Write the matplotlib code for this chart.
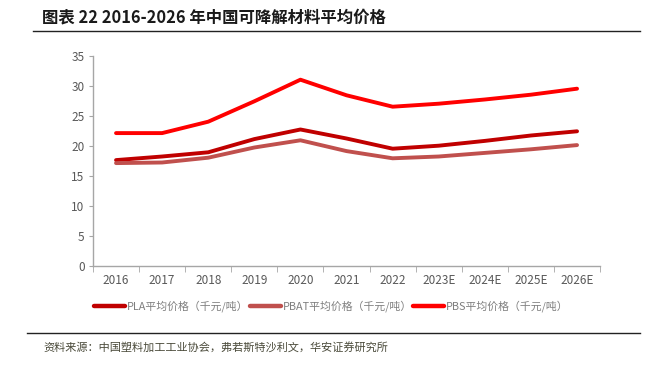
import numpy as np
import matplotlib.pyplot as plt
from matplotlib.lines import Line2D
from matplotlib.ticker import FixedLocator

plt.rcParams['font.family'] = ['Noto Sans CJK SC', 'DejaVu Sans']

years = ['2016', '2017', '2018', '2019', '2020', '2021', '2022',
         '2023E', '2024E', '2025E', '2026E']
pla = [17.6, 18.2, 18.9, 21.1, 22.7, 21.2, 19.5, 20.0, 20.8, 21.7, 22.4]
pbat = [17.1, 17.2, 18.0, 19.7, 20.9, 19.1, 17.9, 18.2, 18.8, 19.4, 20.1]
pbs = [22.1, 22.1, 24.0, 27.4, 31.0, 28.4, 26.5, 27.0, 27.7, 28.5, 29.5]

names = ['PLA平均价格（千元/吨）', 'PBAT平均价格（千元/吨）', 'PBS平均价格（千元/吨）']
colors = ['#C00000', '#C0504D', '#FF0000']

fig = plt.figure(figsize=(6.58, 3.71), dpi=100)
ax = fig.add_axes([0.1413, 0.2838, 0.7707, 0.5661])

x = np.arange(len(years))
for vals, c, nm in zip([pla, pbat, pbs], colors, names):
    ax.plot(x, vals, color=c, lw=2.8, label=nm, solid_capstyle='round')

grey = '#A6A6A6'
ax.set_xlim(-0.5, len(years) - 0.5)
ax.set_ylim(0, 35)
ax.set_yticks(range(0, 36, 5))
ax.set_xticks(x)
ax.set_xticklabels(years)
ax.xaxis.set_minor_locator(FixedLocator(np.arange(-0.5, len(years), 1)))
ax.tick_params(axis='x', which='major', length=0, pad=6, labelsize=8.5, labelcolor='#595959')
ax.tick_params(axis='x', which='minor', length=4, color=grey, direction='out')
ax.tick_params(axis='y', length=3, color=grey, labelsize=8.5, labelcolor='#595959', pad=3)
for s in ['top', 'right']:
    ax.spines[s].set_visible(False)
for s in ['left', 'bottom']:
    ax.spines[s].set_color(grey)
    ax.spines[s].set_linewidth(1.0)

handles = [Line2D([0], [0], color=c, lw=3.2, solid_capstyle='round') for c in colors]
fig.legend(handles, names, loc='center left', bbox_to_anchor=(0.128, 0.175), ncol=3,
           frameon=False, fontsize=7.8, handlelength=2.9, handletextpad=0.15,
           columnspacing=0.1, labelcolor='#7F7F7F')

fig.text(0.064, 0.953, '图表 22 2016-2026 年中国可降解材料平均价格', fontsize=11.8,
         fontweight='bold', ha='left', va='center', color='#1a1a1a')
fig.add_artist(Line2D([0.05, 0.973], [0.916, 0.916], color='#222222', lw=1.0))
fig.add_artist(Line2D([0.041, 0.973], [0.102, 0.102], color='#222222', lw=1.0))
fig.text(0.066, 0.062, '资料来源：中国塑料加工工业协会，弗若斯特沙利文，华安证券研究所',
         fontsize=8, ha='left', va='center', color='#4a4a3a')

fig.savefig('out.png', dpi=100)
